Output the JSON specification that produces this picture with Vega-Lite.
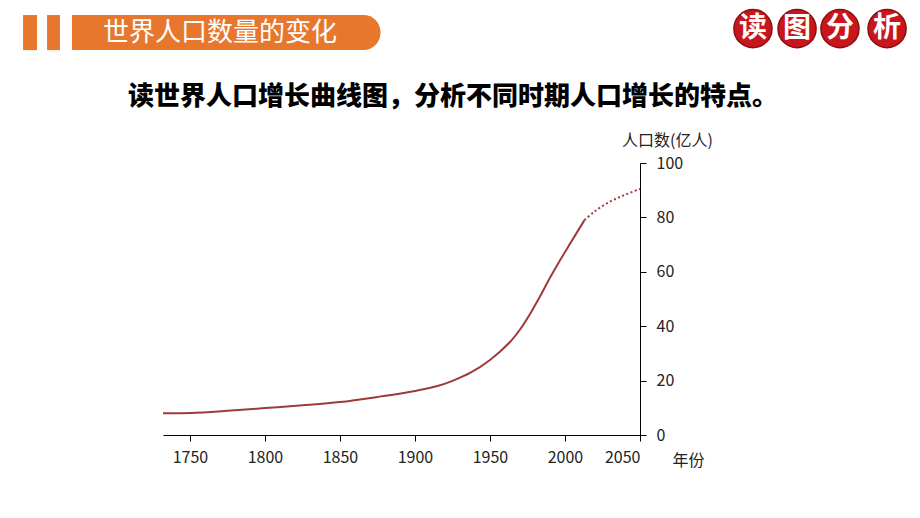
{
  "$schema": "https://vega.github.io/schema/vega-lite/v6.json",
  "width": 477,
  "height": 272,
  "autosize": {"type": "none"},
  "padding": {"left": 163, "top": 163, "right": 280, "bottom": 83},
  "background": "white",
  "config": {"view": {"stroke": null}, "font": "Noto Sans CJK SC"},
  "datasets": {
    "hist": [
      {"year": 1732, "pop": 8.0}, {"year": 1750, "pop": 8.1}, {"year": 1775, "pop": 8.9},
      {"year": 1800, "pop": 9.9}, {"year": 1825, "pop": 10.9}, {"year": 1850, "pop": 12.1},
      {"year": 1875, "pop": 14.0}, {"year": 1900, "pop": 16.2}, {"year": 1915, "pop": 18.0},
      {"year": 1925, "pop": 19.9}, {"year": 1937, "pop": 22.9}, {"year": 1950, "pop": 27.6},
      {"year": 1963, "pop": 34.0}, {"year": 1970, "pop": 38.8}, {"year": 1977, "pop": 44.8},
      {"year": 1983, "pop": 50.6}, {"year": 1990, "pop": 57.8}, {"year": 1997, "pop": 64.5},
      {"year": 2003, "pop": 70.0}, {"year": 2013, "pop": 79.0}
    ],
    "proj": [
      {"year": 2013, "pop": 79.0}, {"year": 2020, "pop": 82.3}, {"year": 2030, "pop": 85.8},
      {"year": 2040, "pop": 88.3}, {"year": 2050, "pop": 90.5}
    ],
    "bars": [
      {"x1": 1638.7, "x2": 1648.0, "y1": 141.5, "y2": 154.4},
      {"x1": 1654.7, "x2": 1663.3, "y1": 141.5, "y2": 154.4}
    ],
    "band": [
      {"x1": 1671.3, "x2": 1877.0, "y1": 141.5, "y2": 154.4}
    ],
    "badges": [
      {"year": 2125.3, "pop": 149.4, "t": "读"},
      {"year": 2154.7, "pop": 149.4, "t": "图"},
      {"year": 2183.3, "pop": 149.4, "t": "分"},
      {"year": 2214.7, "pop": 149.4, "t": "析"}
    ],
    "banner": [{"year": 1770, "pop": 147.9, "t": "世界人口数量的变化"}],
    "heading": [{"year": 1925.3, "pop": 124.3, "t": "读世界人口增长曲线图，分析不同时期人口增长的特点。"}]
  },
  "layer": [
    {
      "data": {"name": "hist"},
      "mark": {"type": "line", "color": "#9e3a3a", "strokeWidth": 2, "interpolate": "catmull-rom"},
      "encoding": {
        "x": {
          "field": "year", "type": "quantitative",
          "scale": {"domain": [1732, 2050], "nice": false, "zero": false},
          "axis": {
            "values": [1750, 1800, 1850, 1900, 1950, 2000, 2050], "format": "d",
            "labelFontSize": 16, "labelColor": "#222", "labelPadding": 8,
            "tickSize": 6, "tickColor": "#000", "domainColor": "#000", "grid": false,
            "title": "年份", "titleFontSize": 16, "titleFontWeight": "normal", "titleColor": "#222",
            "titleX": 525, "titleY": 25, "titleAlign": "center", "titleBaseline": "middle"
          }
        },
        "y": {
          "field": "pop", "type": "quantitative",
          "scale": {"domain": [0, 100], "nice": false, "zero": false},
          "axis": {
            "orient": "right", "values": [0, 20, 40, 60, 80, 100],
            "labelFontSize": 16, "labelColor": "#222", "labelPadding": 10,
            "tickSize": 6, "tickColor": "#000", "domainColor": "#000", "grid": false,
            "title": "人口数(亿人)", "titleFontSize": 16, "titleFontWeight": "normal", "titleColor": "#222",
            "titleAngle": 0, "titleX": 27, "titleY": -23, "titleAlign": "center", "titleBaseline": "middle"
          }
        }
      }
    },
    {
      "data": {"name": "proj"},
      "mark": {"type": "line", "color": "#9e3a3a", "strokeWidth": 2, "strokeDash": [2, 2.5], "interpolate": "catmull-rom"},
      "encoding": {
        "x": {"field": "year", "type": "quantitative", "scale": {"domain": [1732, 2050], "nice": false, "zero": false}},
        "y": {"field": "pop", "type": "quantitative", "scale": {"domain": [0, 100], "nice": false, "zero": false}}
      }
    },
    {
      "data": {"name": "bars"},
      "mark": {"type": "rect", "color": "#e8772e"},
      "encoding": {
        "x": {"field": "x1", "type": "quantitative", "scale": {"domain": [1732, 2050], "nice": false, "zero": false}},
        "x2": {"field": "x2"},
        "y": {"field": "y1", "type": "quantitative", "scale": {"domain": [0, 100], "nice": false, "zero": false}},
        "y2": {"field": "y2"}
      }
    },
    {
      "data": {"name": "band"},
      "mark": {"type": "rect", "color": "#e8772e", "cornerRadiusTopRight": 17, "cornerRadiusBottomRight": 17},
      "encoding": {
        "x": {"field": "x1", "type": "quantitative", "scale": {"domain": [1732, 2050], "nice": false, "zero": false}},
        "x2": {"field": "x2"},
        "y": {"field": "y1", "type": "quantitative", "scale": {"domain": [0, 100], "nice": false, "zero": false}},
        "y2": {"field": "y2"}
      }
    },
    {
      "data": {"name": "banner"},
      "mark": {"type": "text", "color": "white", "fontSize": 26, "baseline": "middle", "align": "center"},
      "encoding": {
        "x": {"field": "year", "type": "quantitative", "scale": {"domain": [1732, 2050], "nice": false, "zero": false}},
        "y": {"field": "pop", "type": "quantitative", "scale": {"domain": [0, 100], "nice": false, "zero": false}},
        "text": {"field": "t"}
      }
    },
    {
      "data": {"name": "badges"},
      "mark": {"type": "point", "shape": "circle", "filled": true, "opacity": 1, "size": 1450, "color": "#c8161d", "stroke": "#8e0d10", "strokeWidth": 1.5, "strokeOpacity": 1},
      "encoding": {
        "x": {"field": "year", "type": "quantitative", "scale": {"domain": [1732, 2050], "nice": false, "zero": false}},
        "y": {"field": "pop", "type": "quantitative", "scale": {"domain": [0, 100], "nice": false, "zero": false}}
      }
    },
    {
      "data": {"name": "badges"},
      "mark": {"type": "text", "color": "white", "fontSize": 28, "fontWeight": "bold", "baseline": "middle", "align": "center"},
      "encoding": {
        "x": {"field": "year", "type": "quantitative", "scale": {"domain": [1732, 2050], "nice": false, "zero": false}},
        "y": {"field": "pop", "type": "quantitative", "scale": {"domain": [0, 100], "nice": false, "zero": false}},
        "text": {"field": "t"}
      }
    },
    {
      "data": {"name": "heading"},
      "mark": {"type": "text", "color": "#000", "fontSize": 26, "fontWeight": 900, "baseline": "middle", "align": "center"},
      "encoding": {
        "x": {"field": "year", "type": "quantitative", "scale": {"domain": [1732, 2050], "nice": false, "zero": false}},
        "y": {"field": "pop", "type": "quantitative", "scale": {"domain": [0, 100], "nice": false, "zero": false}},
        "text": {"field": "t"}
      }
    }
  ]
}
